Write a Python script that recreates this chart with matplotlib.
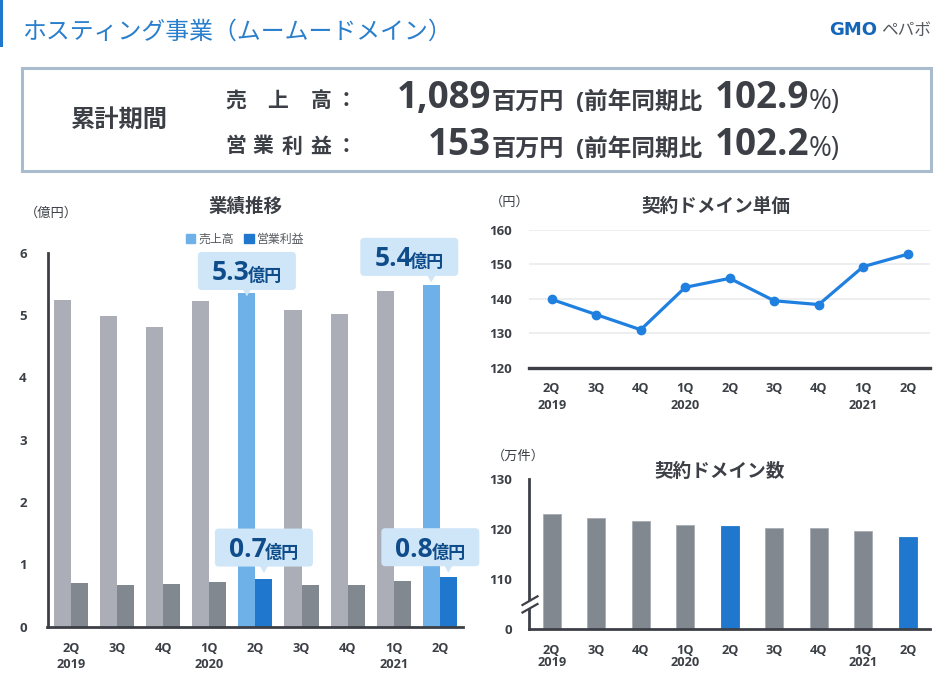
"""GMO Pepabo hosting business slide: sales/profit bars, unit price line, domain count bars."""

import numpy as np
import matplotlib
matplotlib.use("Agg")
import matplotlib.pyplot as plt
from matplotlib.patches import FancyBboxPatch, Patch, Polygon, Rectangle

plt.rcParams["font.family"] = ["Open Sans", "Noto Sans CJK JP", "DejaVu Sans"]

W, H = 952, 675

QUARTERS = ["2Q\n2019", "3Q", "4Q", "1Q\n2020", "2Q", "3Q", "4Q", "1Q\n2021", "2Q"]
SALES = [5.25, 4.99, 4.81, 5.23, 5.35, 5.09, 5.02, 5.39, 5.48]
PROFIT = [0.70, 0.67, 0.68, 0.72, 0.77, 0.67, 0.67, 0.73, 0.80]
UNIT_PRICE = [139.8, 135.4, 131.0, 143.3, 145.9, 139.4, 138.3, 149.3, 152.9]
DOMAINS = [122.9, 122.2, 121.6, 120.7, 120.6, 120.2, 120.1, 119.5, 118.4]
HIGHLIGHT = [4, 8]

DARK = "#3c4046"
BLUE = "#1f78ce"
LIGHT_BLUE = "#6eb0e8"
GREY = "#abaeb6"
DARK_GREY = "#82888f"
BUBBLE = "#cfe5f8"
NAVY = "#0e4c8a"

fig = plt.figure(figsize=(W / 100, H / 100), dpi=100, facecolor="white")


def px_axes(left, top, right, bottom):
    return fig.add_axes([left / W, 1 - bottom / H, (right - left) / W, (bottom - top) / H])


def style(ax, linespacing, pad):
    for s in ["top", "right"]:
        ax.spines[s].set_visible(False)
    for s in ["left", "bottom"]:
        ax.spines[s].set_color(DARK)
        ax.spines[s].set_linewidth(2)
    ax.set_xticks(np.arange(len(QUARTERS)))
    ax.set_xticklabels(QUARTERS, linespacing=linespacing, va="top")
    ax.tick_params(axis="x", length=0, pad=pad, labelsize=9.2, labelcolor=DARK)
    ax.tick_params(axis="y", length=0, pad=12, labelsize=9.5, labelcolor=DARK)
    for lab in ax.get_xticklabels() + ax.get_yticklabels():
        lab.set_fontweight("bold")


x = np.arange(len(QUARTERS))

# left: sales and operating profit
ax1 = px_axes(47.5, 253, 463, 626.5)
sales_col = [LIGHT_BLUE if i in HIGHLIGHT else GREY for i in x]
profit_col = [BLUE if i in HIGHLIGHT else DARK_GREY for i in x]
ax1.bar(x - 0.185, SALES, width=0.37, color=sales_col)
ax1.bar(x + 0.185, PROFIT, width=0.37, color=profit_col)
ax1.set_xlim(-0.51, 8.503)
ax1.set_ylim(0, 6)
ax1.set_yticks(range(7))
style(ax1, 1.3, 11)
ax1.tick_params(axis="y", pad=15)
ax1.legend(handles=[Patch(color=LIGHT_BLUE, label="売上高"), Patch(color=BLUE, label="営業利益")],
           ncol=2, frameon=False, fontsize=8.6, labelcolor="#555a60", loc="center",
           bbox_to_anchor=(245 / W, 1 - 239 / H), bbox_transform=fig.transFigure,
           handlelength=0.8, handleheight=0.8, handletextpad=0.25, columnspacing=0.9,
           borderpad=0, borderaxespad=0)

# right top: unit price
ax2 = px_axes(529, 229.7, 930, 367.7)
ax2.plot(x, UNIT_PRICE, "o-", color="#1f80e0", lw=2.3, ms=6, clip_on=False)
ax2.set_xlim(-0.51, 8.5)
ax2.set_ylim(120, 160)
ax2.set_yticks([120, 130, 140, 150, 160])
ax2.grid(axis="y", color="#e8eaec", lw=1.1)
ax2.set_axisbelow(True)
style(ax2, 1.45, 10)
ax2.spines["left"].set_visible(False)
ax2.spines["bottom"].set_linewidth(2.4)


# right bottom: domain count, axis is cut between 0 and 110
def cut_fwd(v):
    v = np.asarray(v, dtype=float)
    return np.where(v >= 110, v, 100 + v * 10 / 110)


def cut_inv(v):
    v = np.asarray(v, dtype=float)
    return np.where(v >= 110, v, (v - 100) * 110 / 10)


ax3 = px_axes(529, 479, 930, 628.5)
ax3.set_yscale("function", functions=(cut_fwd, cut_inv))
dom_col = [BLUE if i in HIGHLIGHT else DARK_GREY for i in x]
dom_edge = [BLUE if i in HIGHLIGHT else "#a8acb3" for i in x]
ax3.bar(x, DOMAINS, width=0.4, color=dom_col, edgecolor=dom_edge, linewidth=0.6)
ax3.set_xlim(-0.51, 8.5)
ax3.set_ylim(0, 130)
ax3.set_yticks([0, 110, 120, 130])
ax3.set_yticks([], minor=True)
ax3.set_yticklabels(["0", "110", "120", "130"])
style(ax3, 0.95, 11)

# overlay in pixel coordinates for the slide furniture
ov = fig.add_axes([0, 0, 1, 1], zorder=10)
ov.set_xlim(0, W)
ov.set_ylim(H, 0)
ov.axis("off")
ov.patch.set_alpha(0)

ov.add_patch(Rectangle((0, 0), 3, 47, color=BLUE, lw=0))
ov.text(22, 32.5, "ホスティング事業（ムームードメイン）", fontsize=17.2, color="#2a7fcc", va="center")
ov.text(829, 30, "GMO", fontsize=13, fontweight="bold", color="#1467b8", va="center",
        family=["DejaVu Sans"])
ov.text(881, 31, "ペパボ", fontsize=12, color="#555a60", va="center")

ov.add_patch(Rectangle((22, 68), 908.5, 103, fc="white", ec="#a9bccd", lw=2.2))
ov.text(119.5, 120.5, "累計期間", fontsize=17.5, fontweight="bold", color=DARK, ha="center", va="center")

for ch, cx in zip(["売", "上", "高", "："], [236, 278, 321, 346]):
    ov.text(cx, 101, ch, fontsize=15, fontweight="bold", color=DARK, ha="center", va="center")
for ch, cx in zip(["営", "業", "利", "益", "："], [236, 263, 292, 321, 346]):
    ov.text(cx, 147, ch, fontsize=15, fontweight="bold", color=DARK, ha="center", va="center")

for base, amount, rate in [(108, "1,089", "102.9"), (155, "153", "102.2")]:
    ov.text(491, base, amount, fontsize=26.5, fontweight="bold", color=DARK, ha="right", va="baseline")
    ov.text(491.5, base + 1, "百万円", fontsize=17.4, fontweight="bold", color=DARK, va="baseline")
    ov.text(576, base + 1, "(前年同期比", fontsize=17, fontweight="bold", color=DARK, va="baseline")
    ov.text(809, base, rate, fontsize=26.5, fontweight="bold", color=DARK, ha="right", va="baseline")
    ov.text(809, base + 1, "%)", fontsize=20, color=DARK, va="baseline")

# chart titles and units
ov.text(246, 207, "業績推移", fontsize=13.3, fontweight="bold", color=DARK, ha="center", va="center")
ov.text(716, 207.5, "契約ドメイン単価", fontsize=13.4, fontweight="bold", color=DARK, ha="center", va="center")
ov.text(720, 472, "契約ドメイン数", fontsize=13.4, fontweight="bold", color=DARK, ha="center", va="center")
ov.text(51, 213, "（億円）", fontsize=9.5, color=DARK, ha="center", va="center")
ov.text(510, 202, "（円）", fontsize=9.5, color=DARK, ha="center", va="center")
ov.text(518.5, 456.5, "（万件）", fontsize=9.5, color=DARK, ha="center", va="center")


def callout(bar_x, value, label, tip_dy, box_dx):
    """Speech bubble pointing at a bar top; tip_dy in px from the bar top, box_dx from the tip."""
    disp = ax1.transData.transform((bar_x, value))
    tx, ty = ov.transData.inverted().transform(disp)
    ty += tip_dy
    bw, bh = 98, 38
    left = tx + box_dx - bw / 2
    bottom = ty - 6.5
    ov.add_patch(FancyBboxPatch((left + 3, bottom - bh + 3), bw - 6, bh - 6,
                                boxstyle="round,pad=3,rounding_size=4", fc=BUBBLE, ec="none"))
    ov.add_patch(Polygon([(tx - 4, bottom - 0.5), (tx + 4, bottom - 0.5), (tx, ty)], fc=BUBBLE, ec="none"))
    ov.text(left + 14, bottom - 9.5, label, fontsize=19, fontweight="bold", color=NAVY, va="baseline")
    ov.text(left + 50, bottom - 8.5, "億円", fontsize=12.3, fontweight="bold", color=NAVY, va="baseline")


callout(4 - 0.185, SALES[4], "5.3", 3, 0)
callout(8 - 0.185, SALES[8], "5.4", -3, -22)
callout(4 + 0.185, PROFIT[4], "0.7", -5.5, 0)
callout(8 + 0.185, PROFIT[8], "0.8", -4, -18)

# axis break marker on the domain chart
ov.add_patch(Polygon([(522, 605.5), (538, 596.5), (538, 604.5), (522, 613)], fc="white", ec="none"))
ov.plot([522.5, 537.5], [605, 596.3], color=DARK, lw=1.6)
ov.plot([522.5, 537.5], [612.5, 604], color=DARK, lw=1.6)

fig.savefig("out.png", dpi=100)
plt.close(fig)
